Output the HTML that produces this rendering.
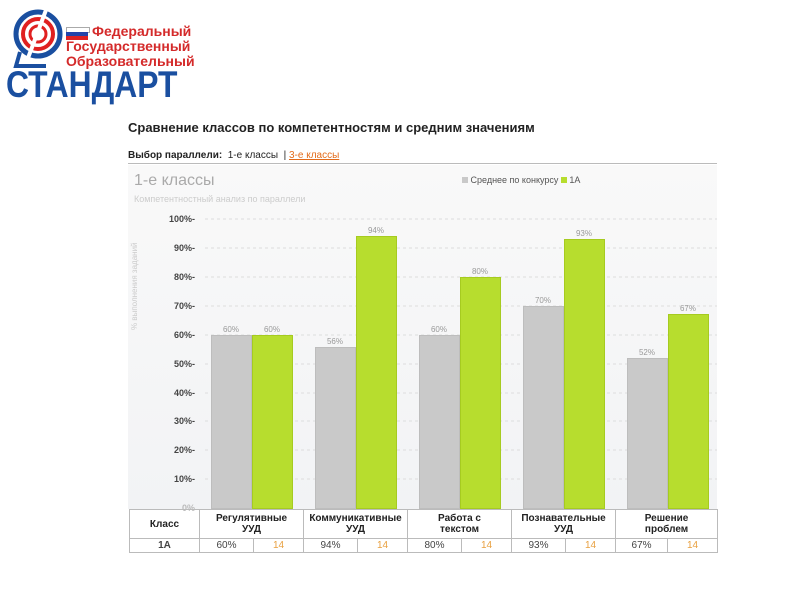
<!DOCTYPE html>
<html><head><meta charset="utf-8"><style>
body{margin:0;width:800px;height:600px;background:#fff;position:relative;overflow:hidden;font-family:"Liberation Sans","DejaVu Sans",sans-serif}
.a{position:absolute;white-space:nowrap}
.bar{position:absolute}
.g{background:#c9c9c9;border:1px solid #bdbdbd;box-sizing:border-box}
.y{background:#b7dd2e;border:1px solid #a6cb20;box-sizing:border-box}
.v{position:absolute;font-size:8px;color:#999;width:40px;text-align:center}
.t{position:absolute;font-size:9px;color:#444;text-align:right;width:40px;font-weight:bold}
table{position:absolute;left:129px;top:509px;width:588px;border-collapse:collapse;font-size:10px;table-layout:fixed}
td{border:1px solid #bbb;text-align:center;padding:0;line-height:11px;overflow:hidden}
</style></head><body>
<svg class="a" style="left:6px;top:8px" width="62" height="64" viewBox="0 0 62 64">
<circle cx="32" cy="26" r="22" fill="none" stroke="#1a4fa0" stroke-width="5"/>
<circle cx="32" cy="26" r="15" fill="none" stroke="#e02020" stroke-width="4"/>
<circle cx="32" cy="26" r="8" fill="none" stroke="#e02020" stroke-width="3"/>
<line x1="40" y1="2" x2="22" y2="50" stroke="#fff" stroke-width="4"/>
<path d="M14 44 L10 58 L40 58" fill="none" stroke="#1a4fa0" stroke-width="4"/>
</svg>
<div class="a" style="left:66px;top:27px;width:22px;height:4px;background:#fff;border:1px solid #aaa"></div>
<div class="a" style="left:66px;top:32px;width:22px;height:4px;background:#2244aa"></div>
<div class="a" style="left:66px;top:36px;width:22px;height:4px;background:#d22"></div>
<div class="a" style="left:92px;top:24px;font-size:14px;font-weight:bold;color:#d42a2a;line-height:15px">Федеральный</div>
<div class="a" style="left:66px;top:39px;font-size:14px;font-weight:bold;color:#d42a2a;line-height:15px">Государственный</div>
<div class="a" style="left:66px;top:54px;font-size:14px;font-weight:bold;color:#d42a2a;line-height:15px">Образовательный</div>
<div class="a" style="left:6px;top:66px;font-size:37px;line-height:38px;font-weight:bold;color:#1a4fa0;transform:scaleX(0.86);transform-origin:left">СТАНДАРТ</div>

<div class="a" style="left:128px;top:120px;font-size:13px;font-weight:bold;color:#222">Сравнение классов по компетентностям и средним значениям</div>
<div class="a" style="left:128px;top:150px;font-size:10px;color:#222"><b>Выбор параллели:</b>&nbsp; 1-е классы &nbsp;| <span style="color:#e36b1a;text-decoration:underline">3-е классы</span></div>
<div class="a" style="left:128px;top:163px;width:589px;height:1px;background:#bbb"></div>
<div class="a" style="left:128px;top:165px;width:589px;height:344px;background:linear-gradient(#f9f9f9,#f2f3f5)"></div>
<div class="a" style="left:134px;top:172px;font-size:16px;color:#aaa">1-е классы</div>
<div class="a" style="left:134px;top:194px;font-size:9px;color:#ccc">Компетентностный анализ по параллели</div>
<div class="a" style="left:462px;top:175px;font-size:9px;color:#555"><span style="display:inline-block;width:6px;height:6px;background:#c9c9c9"></span> Среднее по конкурсу <span style="display:inline-block;width:6px;height:6px;background:#b7dd2e"></span> 1А</div>
<div class="a" style="left:130px;top:330px;font-size:8px;color:#ccc;transform:rotate(-90deg);transform-origin:left top">% выполнения заданий</div>

<svg class="a" style="left:0;top:0" width="800" height="600">
<g stroke="#ddd" stroke-dasharray="3,3">
<line x1="205" x2="717" y1="219" y2="219"/><line x1="205" x2="717" y1="248" y2="248"/><line x1="205" x2="717" y1="277" y2="277"/><line x1="205" x2="717" y1="306" y2="306"/><line x1="205" x2="717" y1="335" y2="335"/><line x1="205" x2="717" y1="364" y2="364"/><line x1="205" x2="717" y1="393" y2="393"/><line x1="205" x2="717" y1="421" y2="421"/><line x1="205" x2="717" y1="450" y2="450"/><line x1="205" x2="717" y1="479" y2="479"/>
</g></svg>
<div class="t" style="left:155px;top:214px">100%-</div>
<div class="t" style="left:155px;top:243px">90%-</div>
<div class="t" style="left:155px;top:272px">80%-</div>
<div class="t" style="left:155px;top:301px">70%-</div>
<div class="t" style="left:155px;top:330px">60%-</div>
<div class="t" style="left:155px;top:359px">50%-</div>
<div class="t" style="left:155px;top:388px">40%-</div>
<div class="t" style="left:155px;top:416px">30%-</div>
<div class="t" style="left:155px;top:445px">20%-</div>
<div class="t" style="left:155px;top:474px">10%-</div>
<div class="t" style="left:155px;top:503px;color:#bbb">0%</div>

<div class="bar g" style="left:211px;top:335px;width:41px;height:174px"></div><div class="v" style="left:211px;top:325px">60%</div>
<div class="bar y" style="left:252px;top:335px;width:41px;height:174px"></div><div class="v" style="left:252px;top:325px">60%</div>
<div class="bar g" style="left:315px;top:347px;width:41px;height:162px"></div><div class="v" style="left:315px;top:337px">56%</div>
<div class="bar y" style="left:356px;top:236px;width:41px;height:273px"></div><div class="v" style="left:356px;top:226px">94%</div>
<div class="bar g" style="left:419px;top:335px;width:41px;height:174px"></div><div class="v" style="left:419px;top:325px">60%</div>
<div class="bar y" style="left:460px;top:277px;width:41px;height:232px"></div><div class="v" style="left:460px;top:267px">80%</div>
<div class="bar g" style="left:523px;top:306px;width:41px;height:203px"></div><div class="v" style="left:523px;top:296px">70%</div>
<div class="bar y" style="left:564px;top:239px;width:41px;height:270px"></div><div class="v" style="left:564px;top:229px">93%</div>
<div class="bar g" style="left:627px;top:358px;width:41px;height:151px"></div><div class="v" style="left:627px;top:348px">52%</div>
<div class="bar y" style="left:668px;top:314px;width:41px;height:195px"></div><div class="v" style="left:668px;top:304px">67%</div>

<table>
<colgroup><col style="width:70px"><col style="width:54px"><col style="width:50px"><col style="width:54px"><col style="width:50px"><col style="width:54px"><col style="width:50px"><col style="width:54px"><col style="width:50px"><col style="width:52px"><col style="width:50px"></colgroup>
<tr style="height:29px;font-weight:bold;color:#222"><td>Класс</td><td colspan="2">Регулятивные<br>УУД</td><td colspan="2">Коммуникативные<br>УУД</td><td colspan="2">Работа с<br>текстом</td><td colspan="2">Познавательные<br>УУД</td><td colspan="2">Решение<br>проблем</td></tr>
<tr style="height:14px;color:#444"><td><b>1А</b></td><td>60%</td><td style="color:#e8a040">14</td><td>94%</td><td style="color:#e8a040">14</td><td>80%</td><td style="color:#e8a040">14</td><td>93%</td><td style="color:#e8a040">14</td><td>67%</td><td style="color:#e8a040">14</td></tr>
</table>
</body></html>
